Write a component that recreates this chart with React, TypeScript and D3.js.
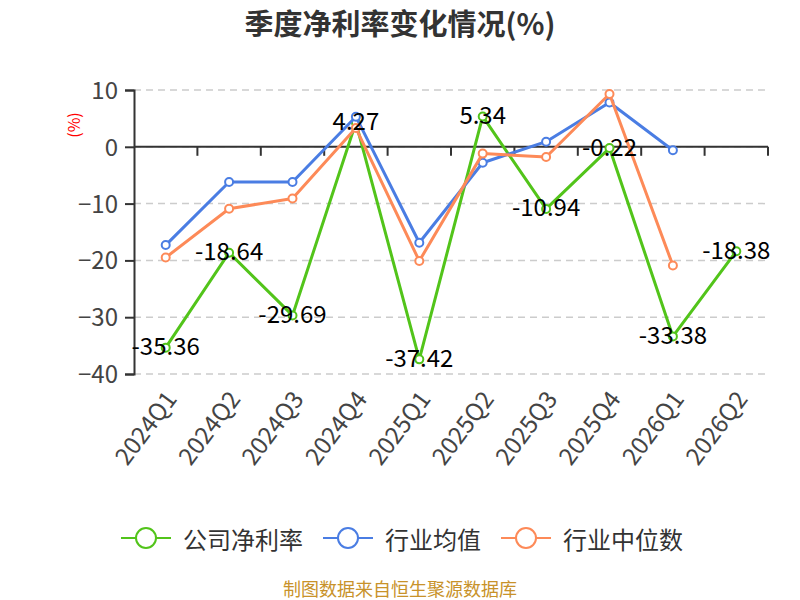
import React, { useEffect, useRef } from 'react';
import * as d3 from 'd3';

const quarters = ['2024Q1', '2024Q2', '2024Q3', '2024Q4', '2025Q1', '2025Q2', '2025Q3', '2025Q4', '2026Q1', '2026Q2'];
const companyRate = [-35.36, -18.64, -29.69, 4.27, -37.42, 5.34, -10.94, -0.22, -33.38, -18.38];
const industryAvg = [-17.3, -6.2, -6.2, 5.3, -16.9, -2.8, 0.9, 7.8, -0.6, null];
const industryMedian = [-19.5, -10.9, -9.1, 3.3, -20.1, -1.2, -1.8, 9.3, -20.9, null];
const yTicks = [10, 0, -10, -20, -30, -40];
const seriesNames = ['公司净利率', '行业均值', '行业中位数'];
const seriesColors = ['#52c41a', '#4a7de3', '#fd8a58'];

const FONT = "'Noto Sans CJK SC', 'Noto Sans', sans-serif";

const App: React.FC = () => {
  const svgRef = useRef<SVGSVGElement | null>(null);

  useEffect(() => {
    const width = 800;
    const height = 600;
    const left = 134;
    const right = 768;
    const top = 90;
    const bottom = 374;

    const svg = d3.select(svgRef.current)
      .attr('width', width)
      .attr('height', height)
      .style('font-family', FONT);
    svg.selectAll('*').remove();

    const x = d3.scaleBand<string>().domain(quarters).range([left, right]);
    const y = d3.scaleLinear().domain([-40, 10]).range([bottom, top]);
    const cx = (q: string) => (x(q) as number) + x.bandwidth() / 2;

    // title
    svg.append('text')
      .attr('x', 400)
      .attr('y', 22)
      .attr('text-anchor', 'middle')
      .attr('dominant-baseline', 'central')
      .style('font-size', '29px')
      .style('font-weight', 'bold')
      .style('fill', '#333')
      .text('季度净利率变化情况(%)');

    // unit label
    svg.append('text')
      .attr('transform', 'translate(73,125) rotate(-90)')
      .attr('text-anchor', 'middle')
      .attr('dominant-baseline', 'central')
      .style('font-size', '16px')
      .style('fill', '#ff0000')
      .text('(%)');

    // grid
    svg.append('g')
      .selectAll('line')
      .data(yTicks)
      .enter()
      .append('line')
      .attr('x1', left)
      .attr('x2', right)
      .attr('y1', d => y(d))
      .attr('y2', d => y(d))
      .attr('stroke', '#ccc')
      .attr('stroke-width', 1.5)
      .attr('stroke-dasharray', '7,5');

    // y axis
    const yAxis = svg.append('g')
      .attr('transform', `translate(${left},0)`)
      .call(d3.axisLeft(y).tickValues(yTicks).tickSize(9).tickPadding(7));
    yAxis.select('.domain').attr('stroke', '#333').attr('stroke-width', 2);
    yAxis.selectAll('.tick line').attr('stroke', '#333').attr('stroke-width', 2);
    yAxis.selectAll('.tick text')
      .style('font-size', '24px')
      .style('font-family', FONT)
      .attr('fill', '#444')
      .attr('dy', '0.35em');

    // x axis on zero
    const xAxis = svg.append('g')
      .attr('transform', `translate(0,${y(0)})`);
    xAxis.append('line')
      .attr('x1', left)
      .attr('x2', right)
      .attr('stroke', '#333')
      .attr('stroke-width', 2);
    xAxis.selectAll('line.tk')
      .data(quarters)
      .enter()
      .append('line')
      .attr('class', 'tk')
      .attr('x1', d => (x(d) as number) + x.bandwidth())
      .attr('x2', d => (x(d) as number) + x.bandwidth())
      .attr('y1', 0)
      .attr('y2', 9)
      .attr('stroke', '#333')
      .attr('stroke-width', 2);

    // x labels
    svg.append('g')
      .selectAll('text')
      .data(quarters)
      .enter()
      .append('text')
      .attr('transform', d => `translate(${cx(d) + 4},${bottom + 19}) rotate(-53)`)
      .attr('text-anchor', 'end')
      .attr('dominant-baseline', 'central')
      .style('font-size', '24px')
      .style('fill', '#444')
      .text(d => d);

    const allSeries = [companyRate, industryAvg, industryMedian];

    const line = d3.line<[string, number | null]>()
      .defined(d => d[1] !== null)
      .x(d => cx(d[0]))
      .y(d => y(d[1] as number));

    allSeries.forEach((vals, i) => {
      const pts = quarters.map((q, j) => [q, vals[j]] as [string, number | null]);
      const g = svg.append('g');
      g.append('path')
        .attr('d', line(pts) as string)
        .attr('fill', 'none')
        .attr('stroke', seriesColors[i])
        .attr('stroke-width', 3)
        .attr('stroke-linejoin', 'round');
      g.selectAll('circle')
        .data(pts.filter(p => p[1] !== null))
        .enter()
        .append('circle')
        .attr('cx', d => cx(d[0]))
        .attr('cy', d => y(d[1] as number))
        .attr('r', 4)
        .attr('fill', '#fff')
        .attr('stroke', seriesColors[i])
        .attr('stroke-width', 2);
    });

    // company value labels
    svg.append('g')
      .selectAll('text')
      .data(quarters.map((q, j) => [q, companyRate[j]] as [string, number]))
      .enter()
      .append('text')
      .attr('x', d => cx(d[0]))
      .attr('y', d => y(d[1]) - 3)
      .attr('text-anchor', 'middle')
      .attr('dominant-baseline', 'central')
      .style('font-size', '24px')
      .style('fill', '#000')
      .text(d => d[1].toFixed(2));

    // legend
    const legend = svg.append('g').attr('transform', 'translate(0,538)');
    let lx = 121;
    seriesNames.forEach((name, i) => {
      const item = legend.append('g').attr('transform', `translate(${lx},0)`);
      item.append('line')
        .attr('x1', 0)
        .attr('x2', 50)
        .attr('stroke', seriesColors[i])
        .attr('stroke-width', 2);
      item.append('circle')
        .attr('cx', 25)
        .attr('r', 10)
        .attr('fill', '#fff')
        .attr('stroke', seriesColors[i])
        .attr('stroke-width', 2);
      const t = item.append('text')
        .attr('x', 62)
        .attr('dominant-baseline', 'central')
        .style('font-size', '24px')
        .style('fill', '#333')
        .text(name);
      const w = (t.node() as SVGTextElement).getComputedTextLength();
      lx += 62 + w + 20;
    });

    // source note
    svg.append('text')
      .attr('x', 400)
      .attr('y', 588)
      .attr('text-anchor', 'middle')
      .attr('dominant-baseline', 'central')
      .style('font-size', '18px')
      .style('fill', '#c8922a')
      .text('制图数据来自恒生聚源数据库');
  }, []);

  return <svg ref={svgRef} style={{ position: 'absolute', left: 0, top: 0 }}></svg>;
};

export default App;
